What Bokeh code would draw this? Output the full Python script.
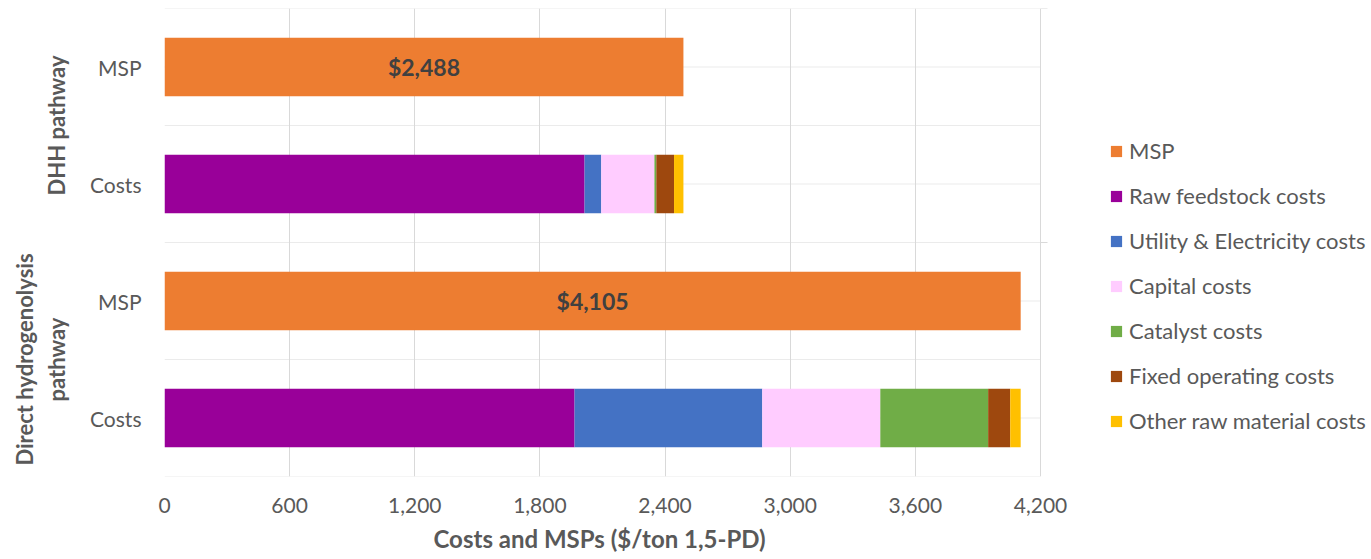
from bokeh.plotting import figure
from bokeh.models import (FactorRange, Range1d, Legend, LegendItem, NumeralTickFormatter,
                          FixedTicker, ColumnDataSource, LabelSet, Title)
from bokeh.core.properties import value
from bokeh.embed import file_html
from bokeh.resources import INLINE

# ---- data ($/ton 1,5-PD) ----
pathways = ["Direct hydrogenolysis\npathway", "DHH pathway"]
rows = ["Costs", "MSP"]

series = ["MSP", "Raw feedstock costs", "Utility & Electricity costs", "Capital costs",
          "Catalyst costs", "Fixed operating costs", "Other raw material costs"]
colors = ["#ED7D31", "#990099", "#4472C4", "#FFCCFF", "#70AD47", "#9E480E", "#FFC000"]

# one value per pathway, in the order of `pathways`
msp_values = [4105, 2488]
raw_feedstock = [1966, 2014]
utility_electricity = [900, 80]
capital = [566, 255]
catalyst = [517, 9]
fixed_operating = [106, 85]
other_raw_material = [50, 45]

x_ticks = [0, 600, 1200, 1800, 2400, 3000, 3600, 4200]
x_max = x_ticks[-1]

cost_parts = [raw_feedstock, utility_electricity, capital, catalyst,
              fixed_operating, other_raw_material]

# ---- build stacked table: Costs rows carry the cost parts, MSP rows the MSP ----
factors = [(pw, r) for pw in pathways for r in rows]
data = {"y": factors}
for name in series:
    data[name] = []
for i, pw in enumerate(pathways):
    for r in rows:
        if r == "MSP":
            data[series[0]].append(msp_values[i])
            for name in series[1:]:
                data[name].append(0)
        else:
            data[series[0]].append(0)
            for name, part in zip(series[1:], cost_parts):
                data[name].append(part[i])
source = ColumnDataSource(data)

TEXT = "#595959"
FONT = "Lato"

# layout: the value axis spans 876 px; the frame runs on to the right edge so the
# legend can sit beside the bars
W, H = 1371, 559
LEFT, TOP, BOTTOM = 164, 8, 82
AXIS_PX = 876
frame_px = W - LEFT
x_end = x_max * frame_px / AXIS_PX
px = x_max / AXIS_PX  # data units per pixel

p = figure(width=W, height=H, output_backend="svg", toolbar_location=None,
           y_range=FactorRange(*factors, range_padding=0, group_padding=0, factor_padding=0),
           x_range=Range1d(0, x_end),
           min_border_left=LEFT, min_border_right=0, min_border_top=TOP, min_border_bottom=BOTTOM)
p.outline_line_color = None
p.background_fill_color = "white"

renderers = p.hbar_stack(series, y="y", height=0.5, color=colors, source=source, line_width=0)

# horizontal rules: row boundaries and row centres
top_row = factors[-1]
rules = ([(pw, r, -0.5) for pw, r in factors] + [(top_row[0], top_row[1], 0.5)]
         + [(pw, r, 0) for pw, r in factors])
p.segment(x0=[0] * len(rules), x1=[x_max] * len(rules), y0=rules, y1=rules,
          line_color="#ebebeb", line_width=1, level="underlay")

# small group ticks on the right-hand edge
gticks = [(top_row[0], top_row[1], 0.5), (top_row[0], "Costs", -0.5)]
p.segment(x0=[x_max] * 2, x1=[x_max + 7 * px] * 2, y0=gticks, y1=gticks,
          line_color="#d9d9d9", line_width=1, level="underlay")

# value labels on MSP bars
msp_src = ColumnDataSource(dict(
    y=[(pw, "MSP") for pw in pathways],
    x=[v / 2 for v in msp_values],
    t=["${:,}".format(v) for v in msp_values],
))
p.add_layout(LabelSet(x="x", y="y", text="t", source=msp_src, text_align="center",
                      text_baseline="middle", text_font=value(FONT), text_font_style="bold",
                      text_font_size="23px", text_color="#404040"))

# grids
p.xgrid.grid_line_color = "#d9d9d9"
p.ygrid.grid_line_color = None
p.xaxis.ticker = FixedTicker(ticks=x_ticks)

# x axis
xa = p.xaxis[0]
xa.formatter = NumeralTickFormatter(format="0,0")
xa.axis_line_color = None
xa.major_tick_line_color = None
xa.minor_tick_line_color = None
xa.major_label_standoff = 15
xa.major_label_text_font = FONT
xa.major_label_text_font_size = "21px"
xa.major_label_text_color = TEXT

# x axis title, centred under the value axis
title_text = "Costs and MSPs ($/ton 1,5-PD)"
p.add_layout(Title(text=title_text, align="left", offset=269, standoff=13,
                   text_font=FONT, text_font_size="24px", text_font_style="bold",
                   text_color=TEXT, text_line_height=0.8), "below")

# y axis
ya = p.yaxis[0]
ya.axis_line_color = None
ya.major_tick_line_color = None
ya.minor_tick_line_color = None
ya.separator_line_color = None
ya.major_label_standoff = 17
ya.major_label_text_font = FONT
ya.major_label_text_font_size = "21px"
ya.major_label_text_color = TEXT
ya.group_text_font = FONT
ya.group_text_font_size = "22px"
ya.group_text_font_style = "bold"
ya.group_text_color = TEXT
ya.group_label_orientation = "vertical"

legend = Legend(
    items=[LegendItem(label=name, renderers=[r]) for name, r in zip(series, renderers)],
    location=(945, 42), orientation="vertical",
    glyph_width=14, glyph_height=14, label_standoff=6, spacing=18, label_height=26,
    label_text_font=FONT, label_text_font_size="22px", label_text_color=TEXT,
    border_line_color=None, background_fill_alpha=0, padding=0, margin=0,
)
p.add_layout(legend, "center")

open("out.html", "w").write(file_html(p, INLINE))
